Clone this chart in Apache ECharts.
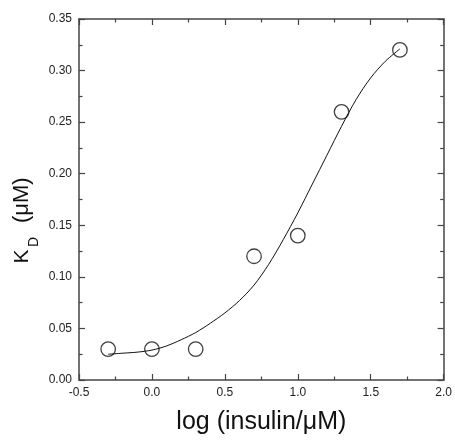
<!DOCTYPE html>
<html>
<head>
<meta charset="utf-8">
<script src="https://cdn.jsdelivr.net/npm/echarts@6/dist/echarts.min.js"></script>
<style>html,body{margin:0;padding:0;background:#fff;}#c{width:455px;height:440px;}</style>
</head>
<body>
<div id="c"></div>
<script>
// measured data (log insulin, KD in uM)
var pointX = [-0.3, 0.0, 0.3, 0.7, 1.0, 1.3, 1.7];
var pointY = [0.030, 0.030, 0.030, 0.120, 0.140, 0.260, 0.320];
// fitted curve
var curveX = [-0.3, -0.2, -0.1, 0.0, 0.1, 0.2, 0.3, 0.4, 0.5, 0.6, 0.7, 0.8, 0.9, 1.0, 1.1, 1.2, 1.3, 1.4, 1.5, 1.6, 1.7];
var curveY = [0.025, 0.026, 0.027, 0.029, 0.033, 0.039, 0.046, 0.055, 0.065, 0.077, 0.092, 0.112, 0.136, 0.162, 0.190, 0.218, 0.246, 0.272, 0.293, 0.309, 0.321];
var xTicks = [-0.5, 0.0, 0.5, 1.0, 1.5, 2.0];
var yTicks = [0.00, 0.05, 0.10, 0.15, 0.20, 0.25, 0.30, 0.35];

var chart = echarts.init(document.getElementById('c'), null, {renderer: 'canvas'});
var axisColor = '#444';
var font = 'Liberation Sans, Arial, Helvetica, sans-serif';
function axisCommon(showLabel, isX) {
  return {
    axisLine: {show: true, onZero: false, lineStyle: {color: axisColor, width: 1.5}},
    axisTick: {show: true, inside: true, length: 6, lineStyle: {color: axisColor, width: 1.2}},
    minorTick: {show: true, splitNumber: 2, length: 3.5, lineStyle: {color: axisColor, width: 1.2}},
    splitLine: {show: false},
    minorSplitLine: {show: false},
    axisLabel: {
      show: showLabel, margin: 7, color: '#222', fontSize: 12, fontFamily: font,
      formatter: function (v) { return isX ? v.toFixed(1) : v.toFixed(2); }
    }
  };
}
var xMin = xTicks[0], xMax = xTicks[xTicks.length - 1];
var yMin = yTicks[0], yMax = yTicks[yTicks.length - 1];
var option = {
  backgroundColor: '#fff',
  animation: false,
  grid: {left: 79, right: 9, top: 19, bottom: 55, containLabel: false},
  xAxis: [
    Object.assign({type: 'value', position: 'bottom', min: xMin, max: xMax, interval: 0.5,
      name: 'log (insulin/\u03bcM)', nameLocation: 'middle', nameGap: 30,
      nameTextStyle: {fontSize: 25, color: '#111', fontFamily: font}}, axisCommon(true, true)),
    Object.assign({type: 'value', position: 'top', min: xMin, max: xMax, interval: 0.5}, axisCommon(false, true))
  ],
  yAxis: [
    Object.assign({type: 'value', position: 'left', min: yMin, max: yMax, interval: 0.05}, axisCommon(true, false)),
    Object.assign({type: 'value', position: 'right', min: yMin, max: yMax, interval: 0.05}, axisCommon(false, false))
  ],
  graphic: [
    {type: 'text', x: 22, y: 263.5, rotation: Math.PI / 2,
      style: {text: 'K', fontSize: 21, fontFamily: font, fill: '#111', align: 'left', verticalAlign: 'middle'}},
    {type: 'text', x: 33.8, y: 247, rotation: Math.PI / 2,
      style: {text: 'D', fontSize: 14, fontFamily: font, fill: '#111', align: 'left', verticalAlign: 'middle'}},
    {type: 'text', x: 22, y: 223, rotation: Math.PI / 2,
      style: {text: '(\u03bcM)', fontSize: 22, fontFamily: font, fill: '#111', align: 'left', verticalAlign: 'middle'}}
  ],
  series: [
    {type: 'line', xAxisIndex: 0, yAxisIndex: 0, smooth: 0.3, showSymbol: false, symbol: 'none',
      lineStyle: {color: '#111', width: 1}, z: 2,
      data: curveX.map(function (x, i) { return [x, curveY[i]]; })},
    {type: 'scatter', xAxisIndex: 0, yAxisIndex: 0, symbol: 'circle', symbolSize: 14.5,
      itemStyle: {color: 'rgba(0,0,0,0)', borderColor: '#111', borderWidth: 1.3}, z: 3,
      data: pointX.map(function (x, i) { return [x, pointY[i]]; })}
  ]
};
chart.setOption(option);
</script>
</body>
</html>
